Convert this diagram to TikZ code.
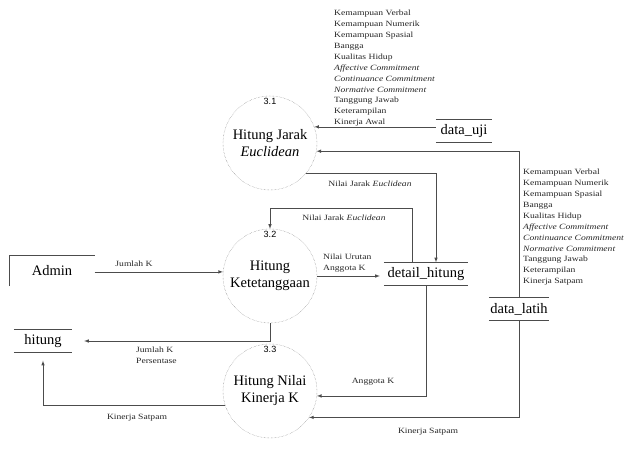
\documentclass[tikz,border=0pt]{standalone}
\usepackage{fontspec}
\setmainfont{Liberation Serif}
\setsansfont{Liberation Sans}
\newfontfamily\lblfont[FakeStretch=1.2]{Liberation Serif}
\begin{document}
\begin{tikzpicture}[x=1pt,y=-1pt,
	proc/.style={circle,draw=black!55,densely dotted,minimum size=94pt,inner sep=0pt,align=center,font=\fontsize{14.5}{17}\selectfont},
	pnum/.style={anchor=north,inner sep=2pt,font=\sffamily\fontsize{9}{10}\selectfont},
	store/.style={minimum height=23pt,inner sep=0pt,font=\fontsize{14.5}{17}\selectfont},
	flow/.style={draw=black!70,line width=0.6pt,-latex},
	lbl/.style={inner sep=1pt,align=left,text=black!85,font=\lblfont\fontsize{8}{10.9}\selectfont},
	]
	\useasboundingbox (0,0) rectangle (625,451);
	
	%processes
	\node[proc](p31) at (270,143) {Hitung Jarak\\\textit{Euclidean}};
	\node[proc](p32) at (270,276) {Hitung\\Ketetanggaan};
	\node[proc](p33) at (270,391) {Hitung Nilai\\Kinerja K};
	\node[pnum](n31) at (p31.north) {3.1};
	\node[pnum](n32) at (p32.north) {3.2};
	\node[pnum](n33) at (p33.north) {3.3};
	
	%stores
	\node[store,minimum width=56pt](uji) at (464,131) {data\_uji};
	\node[store,minimum width=84pt](detail) at (426,274) {detail\_hitung};
	\node[store,minimum width=60pt](latih) at (519,309) {data\_latih};
	\node[store,minimum width=58pt](hitung) at (43,341) {hitung};
	\foreach \s in {uji,detail,latih,hitung}
		\draw[black!70,line width=0.7pt] (\s.north west) -- (\s.north east) (\s.south west) -- (\s.south east);
	
	%entity
	\node[store,minimum width=85pt,minimum height=30pt](admin) at (52,271) {Admin};
	\draw[black!70,line width=0.7pt] (admin.south west) -- (admin.north west) -- (admin.north east);
	
	%flows
	\draw[flow] (uji.west |- p31.20) -- (p31.20);
	\draw[flow] (latih.north) |- (p31.-10);
	\draw[flow] (p31.-40) -| ([xshift=10pt]detail.north);
	\draw[flow] ([xshift=-14pt]detail.north) -- ++(0,-54) -| (p32.north);
	\draw[flow] (p32.east) -- ([xshift=-4pt]detail.west |- p32.east);
	\draw[flow] (admin.east |- p32.175) -- (p32.175);
	\draw[flow] (p32.south) |- ([xshift=12pt]hitung.east);
	\draw[flow] (detail.south) |- (p33.-6);
	\draw[flow] (latih.south) |- (p33.-34);
	\draw[flow] (p33.197) -| ([yshift=-8pt]hitung.south);
	
	%labels
	\node[lbl,anchor=north west](lu) at (333,9) {Kemampuan Verbal\\Kemampuan Numerik\\Kemampuan Spasial\\Bangga\\Kualitas Hidup\\\textit{Affective Commitment}\\\textit{Continuance Commitment}\\\textit{Normative Commitment}\\Tanggung Jawab\\Keterampilan\\Kinerja Awal};
	\node[lbl,anchor=north west](ll) at (522,168) {Kemampuan Verbal\\Kemampuan Numerik\\Kemampuan Spasial\\Bangga\\Kualitas Hidup\\\textit{Affective Commitment}\\\textit{Continuance Commitment}\\\textit{Normative Commitment}\\Tanggung Jawab\\Keterampilan\\Kinerja Satpam};
	\node[lbl](ljarak1) at (370,184) {Nilai Jarak \textit{Euclidean}};
	\node[lbl](ljarak2) at (344,218) {Nilai Jarak \textit{Euclidean}};
	\node[lbl,anchor=west](lurut) at (322,263) {Nilai Urutan\\Anggota K};
	\node[lbl](ljml) at (134,264) {Jumlah K};
	\node[lbl,anchor=north west](ljmlp) at (135,346) {Jumlah K\\Persentase};
	\node[lbl](lang) at (373,382) {Anggota K};
	\node[lbl](lkin1) at (137,418) {Kinerja Satpam};
	\node[lbl](lkin2) at (428,432) {Kinerja Satpam};
\end{tikzpicture}
\end{document}
